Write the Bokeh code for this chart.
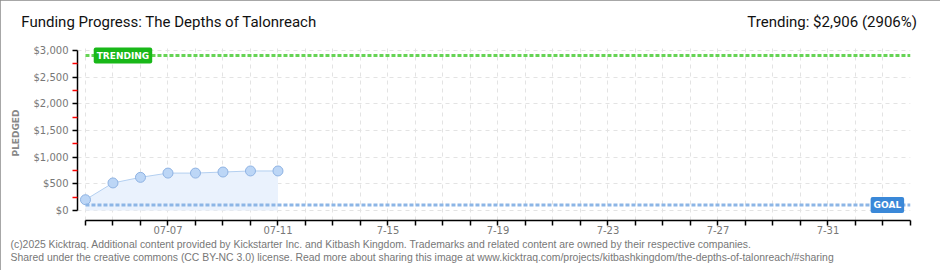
import pandas as pd
from bokeh.plotting import figure
from bokeh.models import (Range1d, FixedTicker, NumeralTickFormatter, Label, LinearAxis, Title)
from bokeh.embed import file_html
from bokeh.resources import INLINE

# ---------------- data ----------------
dates = ["2025-07-04", "2025-07-05", "2025-07-06", "2025-07-07",
         "2025-07-08", "2025-07-09", "2025-07-10", "2025-07-11"]
pledged = [200, 515, 620, 700, 700, 720, 740, 740]
goal = 100
trending = 2906
campaign_start = "2025-07-04"
campaign_end = "2025-08-03"
x_label_dates = ["2025-07-07", "2025-07-11", "2025-07-15", "2025-07-19",
                 "2025-07-23", "2025-07-27", "2025-07-31"]
x_label_texts = ["07-07", "07-11", "7-15", "7-19", "7-23", "7-27", "7-31"]
y_ticks = [0, 500, 1000, 1500, 2000, 2500, 3000]
y_minor = [250, 750, 1250, 1750, 2250, 2750]

title_text = "Funding Progress: The Depths of Talonreach"
trend_text = "Trending:  $2,906 (2906%)"
footer1 = ("(c)2025 Kicktraq. Additional content provided by Kickstarter Inc. and Kitbash Kingdom. "
           "Trademarks and related content are owned by their respective companies.")
footer2 = ("Shared under the creative commons (CC BY-NC 3.0) license. Read more about sharing this image "
           "at www.kicktraq.com/projects/kitbashkingdom/the-depths-of-talonreach/#sharing")

# ---------------- derived ----------------
t0 = pd.Timestamp(campaign_start)
xs = [(pd.Timestamp(d) - t0).days for d in dates]
n_days = (pd.Timestamp(campaign_end) - t0).days
all_ticks = list(range(0, n_days + 1))
overrides = {t: "" for t in all_ticks}
for d, s in zip(x_label_dates, x_label_texts):
    overrides[(pd.Timestamp(d) - t0).days] = s

W, H = 940, 270
FL, FB = 77, 220   # frame left / frame bottom in canvas pixels

p = figure(width=W, height=H, output_backend="svg", toolbar_location=None,
           x_range=Range1d(-0.29, n_days), y_range=Range1d(-190, 3095),
           min_border_left=FL, min_border_right=30, min_border_top=45, min_border_bottom=H - FB,
           background_fill_color="white", border_fill_color="white")
p.outline_line_color = None
p.styles = {"outline": "2px solid #8a8a8a", "outline-offset": "-2px"}

# axes
xa = p.xaxis[0]
xa.ticker = FixedTicker(ticks=all_ticks, minor_ticks=[])
xa.major_label_overrides = overrides
xa.bounds = (0, n_days)
xa.axis_line_color = "black"
xa.axis_line_width = 1.5
xa.major_tick_out = 5
xa.major_tick_in = 0
xa.major_tick_line_color = "black"
xa.major_tick_line_width = 1.5
xa.major_label_text_font = "DejaVu Sans"
xa.major_label_text_font_size = "10px"
xa.major_label_text_color = "#777777"
xa.major_label_standoff = 0

ya = p.yaxis[0]
ya.ticker = FixedTicker(ticks=y_ticks, minor_ticks=y_minor)
ya.formatter = NumeralTickFormatter(format="$0,0")
ya.bounds = (0, 3000)
ya.axis_line_color = "black"
ya.axis_line_width = 1.5
ya.major_tick_out = 5
ya.major_tick_in = 0
ya.major_tick_line_width = 1.5
ya.minor_tick_out = 5
ya.minor_tick_in = 0
ya.minor_tick_line_color = "#ff0000"
ya.minor_tick_line_width = 1.5
ya.major_label_text_font = "DejaVu Sans"
ya.major_label_text_font_size = "10px"
ya.major_label_text_color = "#777777"
ya.major_label_standoff = 4
ya.axis_label = "PLEDGED"
ya.axis_label_text_font = "DejaVu Sans"
ya.axis_label_text_font_size = "9px"
ya.axis_label_text_font_style = "bold"
ya.axis_label_text_color = "#888888"
ya.axis_label_standoff = 10

# header row: an unlined axis above the frame carrying the title and trending text
title_pos = 3.04      # days (centre of title text)
trend_pos = 27.22     # days (centre of trending text)
top = LinearAxis(ticker=FixedTicker(ticks=[title_pos, trend_pos], minor_ticks=[]),
                 major_label_overrides={title_pos: title_text, trend_pos: trend_text},
                 axis_line_color=None, major_tick_line_color=None, minor_tick_line_color=None,
                 major_tick_out=0, major_tick_in=0, major_label_standoff=15,
                 major_label_text_font="Roboto",
                 major_label_text_font_size="15px", major_label_text_color="#111111")
p.add_layout(top, "above")

# footer lines
for txt in (footer1, footer2):
    p.add_layout(Title(text=txt, align="left", offset=-(FL - 10), standoff=0,
                       text_font="Liberation Sans", text_font_size="10.4px",
                       text_font_style="normal", text_color="#777777"), "below")

# grid
p.xgrid.ticker = FixedTicker(ticks=all_ticks)
p.ygrid.ticker = FixedTicker(ticks=y_ticks)
for g in (p.xgrid[0], p.ygrid[0]):
    g.grid_line_color = "#e3e3e3"
    g.grid_line_dash = "4 4"
    g.grid_line_width = 1

# series
p.varea(x=xs, y1=[0] * len(xs), y2=pledged, fill_color="#eaf2fd")
p.line(x=xs, y=pledged, line_color="#b3cff0", line_width=1)
p.scatter(x=xs, y=pledged, size=10, fill_color="#bcd6f6", line_color="#8fb3e3", line_width=1)

# goal & trending lines
p.line(x=[0, n_days], y=[goal, goal], line_color="#8db6e6", line_width=3, line_dash="4 2")
p.line(x=[0, n_days], y=[trending, trending], line_color="#66d455", line_width=3, line_dash="4 2")

p.add_layout(Label(x=0.3, y=trending, text="TRENDING", text_font="DejaVu Sans",
                   text_font_size="9px", text_font_style="bold", text_color="white",
                   text_baseline="middle", background_fill_color="#19b819",
                   padding=3, border_radius=2))
p.add_layout(Label(x=n_days - 1.45, y=goal, text="GOAL", text_font="DejaVu Sans",
                   text_font_size="9px", text_font_style="bold", text_color="white",
                   text_baseline="middle", background_fill_color="#3a88d8",
                   padding=3, border_radius=2))

open("out.html", "w").write(file_html(p, INLINE))
